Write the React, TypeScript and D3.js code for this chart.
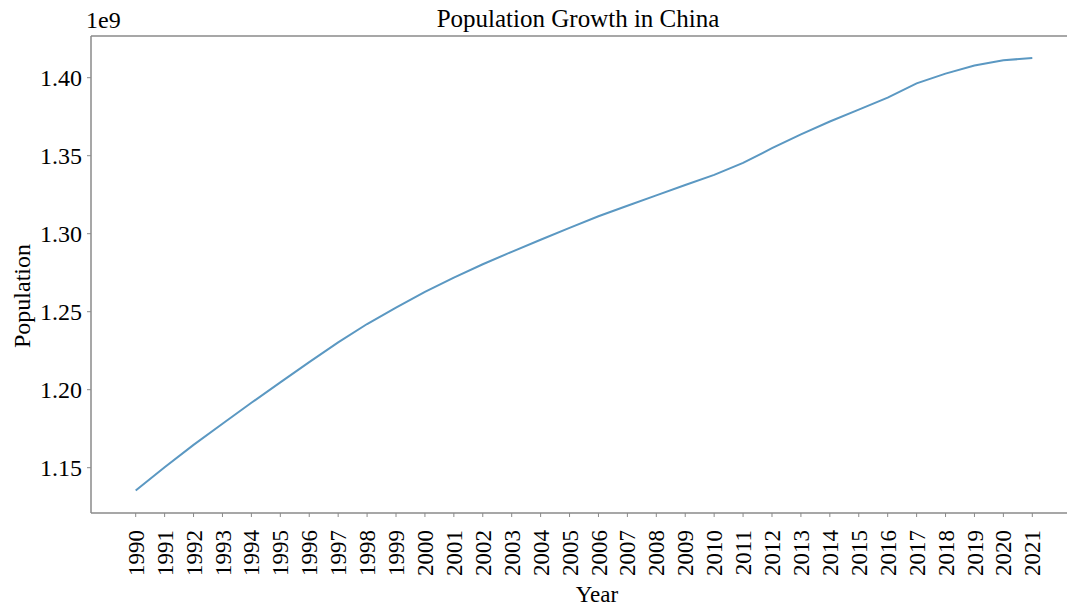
import React, { useEffect, useRef } from "react";
import * as d3 from "d3";

const years = [
  1990, 1991, 1992, 1993, 1994, 1995, 1996, 1997, 1998, 1999, 2000, 2001,
  2002, 2003, 2004, 2005, 2006, 2007, 2008, 2009, 2010, 2011, 2012, 2013,
  2014, 2015, 2016, 2017, 2018, 2019, 2020, 2021,
];

// population, in billions (axis shows 1e9 offset)
const population = [
  1.1354, 1.1503, 1.1646, 1.1782, 1.1916, 1.2047, 1.2177, 1.2303, 1.2421,
  1.2526, 1.2627, 1.2719, 1.2804, 1.2884, 1.2961, 1.3037, 1.3112, 1.3179,
  1.3246, 1.3312, 1.3377, 1.3454, 1.3548, 1.3637, 1.3719, 1.3795, 1.3872,
  1.3964, 1.4026, 1.4078, 1.4112, 1.4126,
];

const yTicks = [1.15, 1.2, 1.25, 1.3, 1.35, 1.4];

const W = 1067;
const H = 608;
const FONT = "'Liberation Serif', 'Times New Roman', serif";

const App: React.FC = () => {
  const svgRef = useRef<SVGSVGElement | null>(null);

  useEffect(() => {
    if (!svgRef.current) return;
    const svg = d3.select(svgRef.current);
    svg.selectAll("*").remove();

    const left = 91;
    const right = 1067;
    const top = 36;
    const bottom = 513;

    const x = d3.scaleLinear().domain([1990, 2021]).range([135.7, 1032.3]);
    const y = d3.scaleLinear().domain([1.15, 1.4]).range([467.7, 77.7]);

    const g = svg.append("g");

    // spines (left, bottom, top; no right one)
    const spine = "#8a8a8a";
    g.append("line").attr("x1", left).attr("x2", left).attr("y1", top).attr("y2", bottom)
      .attr("stroke", spine).attr("stroke-width", 1.5);
    g.append("line").attr("x1", left).attr("x2", right).attr("y1", bottom).attr("y2", bottom)
      .attr("stroke", spine).attr("stroke-width", 1.5);
    g.append("line").attr("x1", left).attr("x2", right).attr("y1", top).attr("y2", top)
      .attr("stroke", spine).attr("stroke-width", 1.5);

    // y ticks
    const yt = g.selectAll(".yt").data(yTicks).enter().append("g")
      .attr("transform", (d) => `translate(${left},${y(d)})`);
    yt.append("line").attr("x1", -4).attr("x2", 0).attr("stroke", spine).attr("stroke-width", 1);
    yt.append("text")
      .attr("x", -9).attr("dy", "0.35em").attr("text-anchor", "end")
      .attr("font-family", FONT).attr("font-size", 24).attr("fill", "#000")
      .text((d) => d.toFixed(2));

    // x ticks
    const xt = g.selectAll(".xt").data(years).enter().append("g")
      .attr("transform", (d) => `translate(${x(d)},${bottom})`);
    xt.append("line").attr("y1", 0).attr("y2", 4).attr("stroke", spine).attr("stroke-width", 1);
    xt.append("text")
      .attr("transform", "translate(0,17) rotate(-90)")
      .attr("dy", "0.35em").attr("text-anchor", "end")
      .attr("font-family", FONT).attr("font-size", 23).attr("fill", "#000")
      .text((d) => String(d));

    // line
    const line = d3.line<number>()
      .x((_, i) => x(years[i]))
      .y((d) => y(d));
    g.append("path")
      .datum(population)
      .attr("d", line)
      .attr("fill", "none")
      .attr("stroke", "#5b98c2")
      .attr("stroke-width", 2);

    // labels
    svg.append("text")
      .attr("x", 578).attr("y", 27)
      .attr("text-anchor", "middle")
      .attr("font-family", FONT).attr("font-size", 25)
      .text("Population Growth in China");
    svg.append("text")
      .attr("x", 86).attr("y", 28)
      .attr("font-family", FONT).attr("font-size", 24)
      .text("1e9");
    svg.append("text")
      .attr("transform", `translate(30,296) rotate(-90)`)
      .attr("text-anchor", "middle")
      .attr("font-family", FONT).attr("font-size", 24)
      .text("Population");
    svg.append("text")
      .attr("x", 597).attr("y", 602)
      .attr("text-anchor", "middle")
      .attr("font-family", FONT).attr("font-size", 23)
      .text("Year");
  }, []);

  return (
    <div style={{ position: "absolute", left: 0, top: 0 }}>
      <svg ref={svgRef} width={W} height={H} style={{ display: "block", background: "#fff" }} />
    </div>
  );
};

export default App;
